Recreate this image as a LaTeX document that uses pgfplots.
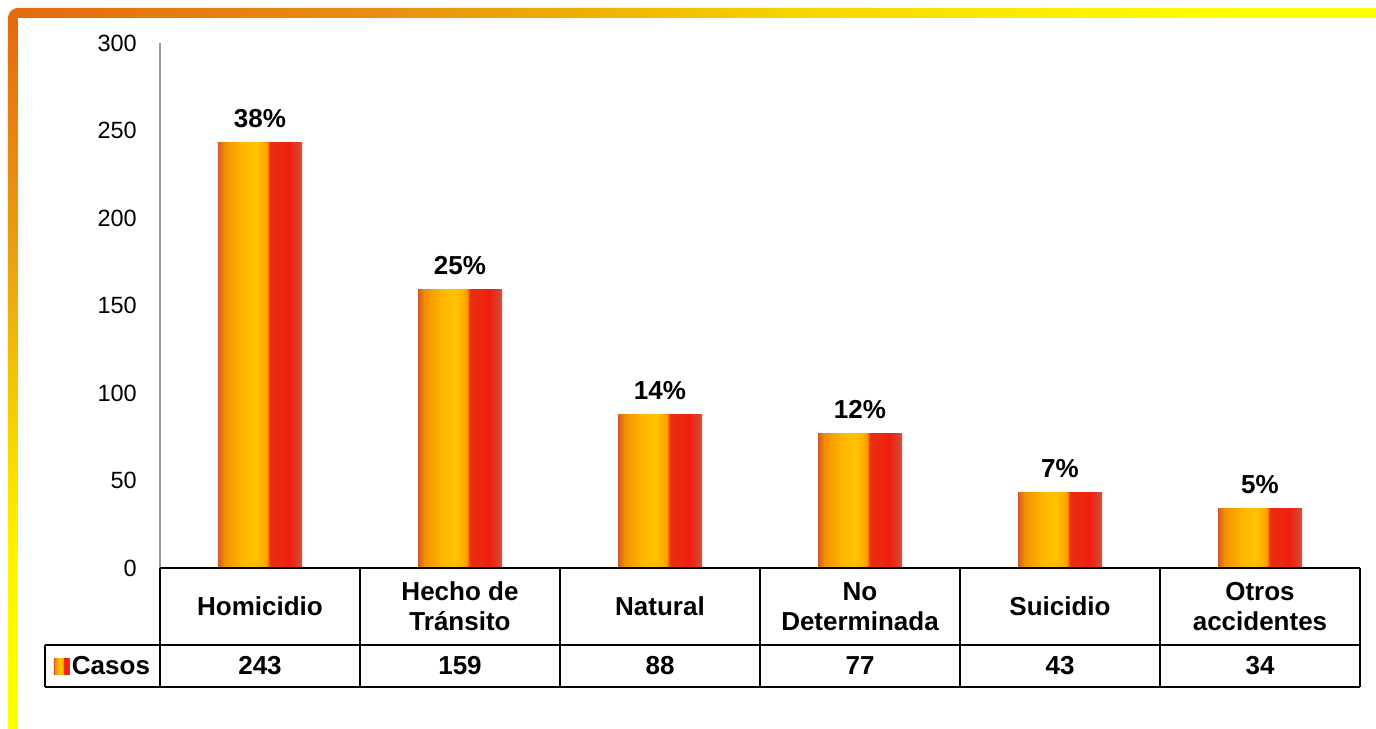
\documentclass[border=0pt]{standalone}
\usepackage{fontspec}
\setmainfont{Liberation Sans}
\usepackage{pgfplots}
\usepackage{pgfplotstable}
\pgfplotsset{compat=1.18}

% frame colours
\definecolor{frA}{HTML}{E46A10}
\definecolor{frB}{HTML}{E99012}
\definecolor{frC}{HTML}{F0B200}
\definecolor{frD}{HTML}{F5D500}
\definecolor{frE}{HTML}{FCE800}
\definecolor{frF}{HTML}{FFFF00}
\definecolor{lfB}{HTML}{EA9E12}
\definecolor{lfC}{HTML}{F8D800}
\definecolor{lfD}{HTML}{FFF400}
% bar colours
\definecolor{brA}{HTML}{D85A28}
\definecolor{brB}{HTML}{F29000}
\definecolor{brC}{HTML}{FFB800}
\definecolor{brD}{HTML}{FFC200}
\definecolor{brE}{HTML}{FFA000}
\definecolor{brF}{HTML}{E83010}
\definecolor{brG}{HTML}{F01E10}
\definecolor{brH}{HTML}{D05038}

\pgfdeclarehorizontalshading{topframe}{100bp}{color(0bp)=(frA); color(25bp)=(frA); color(39bp)=(frB); color(46.6bp)=(frC); color(53.9bp)=(frD); color(61.3bp)=(frE); color(70bp)=(frF); color(100bp)=(frF)}
\pgfdeclareverticalshading{leftframe}{100bp}{color(0bp)=(frF); color(25bp)=(frF); color(36.8bp)=(lfD); color(44.6bp)=(lfC); color(58.7bp)=(lfB); color(75bp)=(frA); color(100bp)=(frA)}
\pgfdeclarehorizontalshading{barshade}{100bp}{color(0bp)=(brA); color(25bp)=(brA); color(29bp)=(brB); color(40bp)=(brC); color(47.5bp)=(brD); color(54bp)=(brE); color(56bp)=(brF); color(67.5bp)=(brG); color(75bp)=(brH); color(100bp)=(brH)}

\pgfplotstableread{
x y pct
0 243 38
1 159 25
2 88 14
3 77 12
4 43 7
5 34 5
}\casos

\newcommand{\bfbig}{\fontsize{26}{30}\selectfont\bfseries}

\begin{document}
\begin{tikzpicture}
\begin{axis}[
  scale only axis, width=1200pt, height=525pt,
  xmin=-0.5, xmax=5.5, ymin=0, ymax=300,
  clip=false,
  axis line style={draw=none},
  major tick length=0pt,
  ytick={0,50,...,300},
  /pgf/number format/assume math mode=true,
  yticklabel style={font=\fontsize{23.5}{28}\selectfont, anchor=east, inner sep=0pt, xshift=-23pt},
  xtick={0,...,5},
  xticklabels={Homicidio,{Hecho de\\Tránsito},Natural,{No\\Determinada},Suicidio,{Otros\\accidentes}},
  xticklabel style={font=\bfbig, align=center, anchor=center, inner sep=0pt, yshift=-38.5pt},
  legend style={at={(axis description cs:-0.0475,-0.1867)}, anchor=center, draw=none, fill=none, inner sep=0pt, font=\bfbig, nodes={inner sep=2pt}},
  legend image code/.code={\shade[shading=barshade] (0pt,-8pt) rectangle (16pt,8pt);},
]
% page frame (outer corners of the picture, in axis units)
\coordinate (bbsw) at (axis cs:-1.3,-91.43);
\coordinate (bbne) at (axis cs:5.58,324.57);
\shade[shading=leftframe] (axis cs:-1.26,-91.43) rectangle (axis cs:-1.21,315);
\shade[shading=topframe] (axis cs:-1.26,314.29) [rounded corners=10pt] -- (axis cs:-1.26,320) [sharp corners] -- (axis cs:5.58,320) -- (axis cs:5.58,314.29) -- cycle;

% one plot per bar, so that each bar gets its own shading
\pgfplotsinvokeforeach{0,...,5}{
\addplot[ybar, bar width=84pt, bar shift=0pt, draw=none, shade, shading=barshade,
  x filter/.expression={x==#1 ? x : nan},
  nodes near coords={\pgfmathprintnumber{\pgfplotspointmeta}\%},
  point meta=explicit,
  nodes near coords style={font=\bfbig, anchor=base, inner sep=0pt, yshift=15pt, text=black}]
  table[x=x, y=y, meta=pct] {\casos};
}
\legend{Casos}
\addplot[draw=none, mark=none, forget plot,
  nodes near coords={\pgfmathprintnumber{\pgfplotspointmeta}},
  point meta=explicit,
  nodes near coords style={font=\bfbig, anchor=center, inner sep=0pt, text=black}]
  table[x=x, y expr=-56, meta=y] {\casos};

\draw[gray!80, line width=1.5pt] (axis cs:-0.5,0) -- (axis cs:-0.5,300);
\draw[black, line width=2pt] (axis cs:-0.5,0) -- (axis cs:5.5,0);
\draw[black, line width=2pt] (axis cs:-1.075,-44) -- (axis cs:5.5,-44);
\draw[black, line width=2pt] (axis cs:-1.075,-68) -- (axis cs:5.5,-68);
\draw[black, line width=2pt] (axis cs:-1.075,-44) -- (axis cs:-1.075,-68);
\pgfplotsinvokeforeach{-0.5,0.5,1.5,2.5,3.5,4.5,5.5}{
  \draw[black, line width=2pt] (axis cs:#1,0) -- (axis cs:#1,-68);
}
\end{axis}
\pgfresetboundingbox
\useasboundingbox (bbsw) rectangle (bbne);
\end{tikzpicture}
\end{document}
